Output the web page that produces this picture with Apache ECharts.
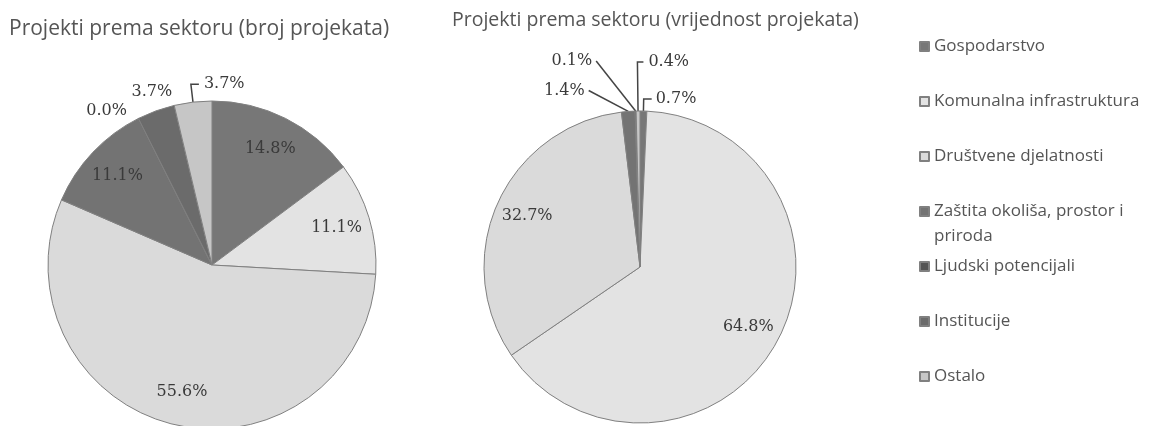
<!DOCTYPE html>
<html lang="hr">
<head>
<meta charset="UTF-8">
<title>Projekti prema sektoru</title>
<script src="https://cdn.jsdelivr.net/npm/echarts@6/dist/echarts.min.js"></script>
<style>html,body{margin:0;padding:0;background:#fff}</style>
</head>
<body>
<div id="main" style="width:1153px;height:426px;"></div>
<script type="text/javascript">
// sektori (redoslijed kao u legendi)
var sektori = ['Gospodarstvo', 'Komunalna infrastruktura', 'Društvene djelatnosti',
    'Zaštita okoliša, prostor i priroda', 'Ljudski potencijali', 'Institucije', 'Ostalo'];
// udio u broju projekata (%)
var brojUdio = [14.8, 11.1, 55.6, 11.1, 0.0, 3.7, 3.7];
// udio u vrijednosti projekata (%) - Institucije bez podatka
var vrijednostUdio = [0.7, 64.8, 32.7, 1.4, 0.1, null, 0.4];

var boje = ['#777777', '#e3e3e3', '#dadada', '#737373', '#555555', '#6b6b6b', '#c6c6c6'];

// vanjski natpisi: [length, length2, nacin]
var lijeviNatpisi = {4: [8, 4, 'bez'], 5: [12, 0, 'gore'], 6: [18, 8, 'desno']};
var desniNatpisi = {0: [12, 8], 3: [21, 38, 'ravno'], 4: [50, 38, 'ravno'], 6: [49, 6, 'desno']};

var font = 'Open Sans';
var natpisFont = {fontFamily: 'DejaVu Serif', fontSize: 16, color: '#3a3a3a'};

function postotak(p) {
    return p.value.toFixed(1) + '%';
}

function podaci(vrijednosti, natpisi) {
    var out = [];
    vrijednosti.forEach(function (v, i) {
        if (v === null) return;
        var item = {name: sektori[i], value: v, itemStyle: {color: boje[i]}};
        var n = natpisi[i];
        if (n) {
            item.label = {show: true, position: 'outside'};
            item.labelLine = {
                show: true, length: n[0], length2: n[1],
                lineStyle: (n[2] === 'bez' || n[2] === 'gore') ? {opacity: 0} : {}
            };
        }
        out.push(item);
    });
    return out;
}

function raspored(data, natpisi) {
    return function (p) {
        var i = sektori.indexOf(data[p.dataIndex].name);
        var n = natpisi[i];
        var pts = p.labelLinePoints;
        if (!n || !pts) return;
        if (n[2] === 'desno') {
            var x = pts[1][0] + n[1];
            return {x: x + 5, align: 'left', labelLinePoints: [pts[0], pts[1], [x, pts[1][1]]]};
        }
        if (n[2] === 'gore') {
            return {x: pts[1][0], y: pts[1][1], align: 'center', verticalAlign: 'bottom'};
        }
        if (n[2] === 'ravno') {
            return {labelLinePoints: [pts[0], pts[2]]};
        }
    };
}

function pita(vrijednosti, natpisi, centar, r) {
    var data = podaci(vrijednosti, natpisi);
    return {
        type: 'pie',
        center: centar,
        radius: r,
        startAngle: 90,
        clockwise: true,
        avoidLabelOverlap: false,
        itemStyle: {borderColor: '#808080', borderWidth: 1},
        label: Object.assign({show: false, formatter: postotak, distanceToLabelLine: 4}, natpisFont),
        labelLine: {lineStyle: {color: '#444', width: 1.5}},
        labelLayout: raspored(data, natpisi),
        emphasis: {disabled: true},
        data: data
    };
}

// prozirni prsten samo za unutarnje natpise (na ~3/4 polumjera)
function unutarnjiNatpisi(vrijednosti, centar, r) {
    var data = [];
    vrijednosti.forEach(function (v, i) {
        if (v === null) return;
        data.push({name: sektori[i], value: v, label: {show: v >= 5}});
    });
    return {
        type: 'pie',
        center: centar,
        radius: [r * 0.55, r],
        startAngle: 90,
        clockwise: true,
        silent: true,
        avoidLabelOverlap: false,
        itemStyle: {color: 'rgba(0,0,0,0)', borderWidth: 0},
        label: Object.assign({position: 'inside', formatter: postotak}, natpisFont),
        labelLine: {show: false},
        emphasis: {disabled: true},
        data: data
    };
}

var legenda = {
    orient: 'vertical',
    left: 919,
    padding: 0,
    icon: 'rect',
    itemWidth: 9,
    itemHeight: 9,
    itemGap: 30,
    selectedMode: false,
    textStyle: {fontFamily: font, fontSize: 17, color: '#555', lineHeight: 25}
};

var myChart = echarts.init(document.getElementById('main'));

myChart.setOption({
    backgroundColor: '#fff',
    animation: false,
    title: [
        {text: 'Projekti prema sektoru (broj projekata)', left: 9, top: 19, padding: 0,
            textStyle: {fontFamily: font, fontSize: 21, fontWeight: 'normal', color: '#555'}},
        {text: 'Projekti prema sektoru (vrijednost projekata)', left: 452, top: 10, padding: 0,
            textStyle: {fontFamily: font, fontSize: 19.5, fontWeight: 'normal', color: '#555'}}
    ],
    legend: [
        Object.assign({}, legenda, {top: 34, data: sektori.slice(0, 3)}),
        Object.assign({}, legenda, {
            // prazan prvi red da se ikona poravna s prvim redom teksta
            top: 174, data: sektori.slice(3, 4),
            formatter: function (name) {
                var k = name.lastIndexOf(' ');
                return ' \n' + name.slice(0, k) + '\n' + name.slice(k + 1);
            }
        }),
        Object.assign({}, legenda, {top: 254, data: sektori.slice(4)})
    ],
    series: [
        pita(brojUdio, lijeviNatpisi, [212, 265], 164),
        pita(vrijednostUdio, desniNatpisi, [640, 267], 156),
        unutarnjiNatpisi(brojUdio, [212, 265], 164),
        unutarnjiNatpisi(vrijednostUdio, [640, 267], 156)
    ]
});
</script>
</body>
</html>
